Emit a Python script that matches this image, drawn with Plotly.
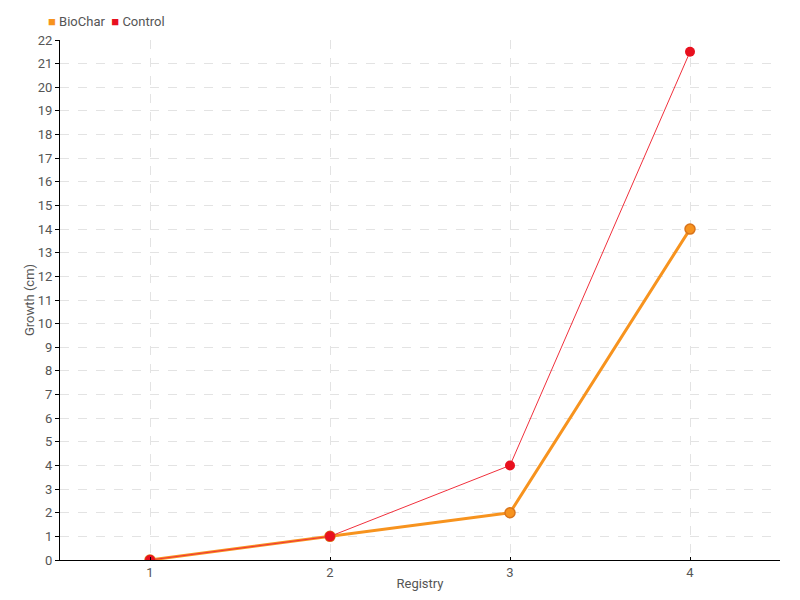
import plotly.graph_objects as go

registry = [1, 2, 3, 4]
biochar = [0, 1, 2, 14]
control = [0, 1, 4, 21.5]
y_ticks = list(range(0, 23))
series_names = ["BioChar", "Control"]

FONT = "Roboto"
TXT = "#555555"
ORANGE = "#F7931E"
RED = "#E8101E"

fig = go.Figure()
fig.add_trace(go.Scatter(
    x=registry, y=biochar, mode="lines+markers", name=series_names[0], showlegend=False,
    line=dict(color=ORANGE, width=3),
    marker=dict(color=ORANGE, size=10, line=dict(color="#D9741A", width=1.5)),
))
fig.add_trace(go.Scatter(
    x=registry, y=control, mode="lines+markers", name=series_names[1], showlegend=False,
    line=dict(color="#F0303C", width=1),
    marker=dict(color=RED, size=10, line=dict(width=0)),
))

legend_text = (f"<span style='color:{ORANGE}'>■</span> {series_names[0]}  "
               f"<span style='color:{RED}'>■</span> {series_names[1]}")
fig.add_annotation(text=legend_text, xref="paper", yref="paper", x=-0.019, y=1.035,
                   xanchor="left", yanchor="middle", showarrow=False,
                   font=dict(family=FONT, size=13, color=TXT))

# page body has an 8px default margin, so the figure is sized/offset to compensate
fig.update_layout(
    width=792, height=592,
    margin=dict(l=52, r=20, t=32, b=40, autoexpand=False),
    plot_bgcolor="white", paper_bgcolor="white",
    font=dict(family=FONT, size=13, color=TXT),
    showlegend=False,
    xaxis=dict(
        range=[0.5, 4.5], tickmode="array", tickvals=registry,
        ticktext=[str(r) for r in registry],
        showline=True, linecolor="black", linewidth=1,
        ticks="inside", ticklen=3, tickcolor="black",
        showgrid=True, gridcolor="#E3E3E3", griddash="dash", gridwidth=1,
        zeroline=False, automargin=False,
        title=dict(text="Registry", standoff=0, font=dict(size=13, color=TXT)),
    ),
    yaxis=dict(
        range=[0, 22], tickmode="array", tickvals=y_ticks,
        showline=True, linecolor="black", linewidth=1,
        ticks="outside", ticklen=4, tickcolor="black",
        showgrid=True, gridcolor="#E3E3E3", griddash="dash", gridwidth=1,
        zeroline=False, automargin=False,
        title=dict(text="Growth (cm)", standoff=0, font=dict(size=13, color=TXT)),
    ),
)

fig.write_html("out.html")
